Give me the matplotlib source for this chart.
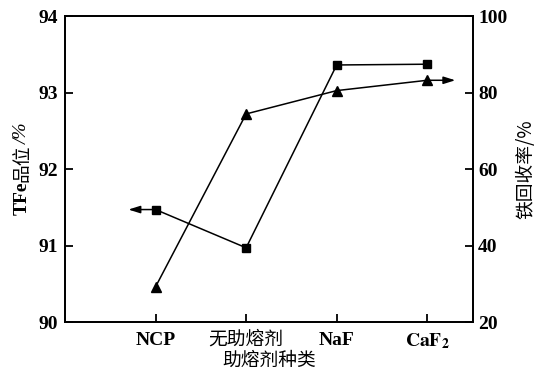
import matplotlib
matplotlib.use("Agg")
import matplotlib.pyplot as plt
import matplotlib.transforms as mtransforms
import numpy as np

plt.rcParams["mathtext.fontset"] = "stix"

categories = ["NCP", "无助熔剂", "NaF", r"$\mathbf{CaF_2}$"]
tfe_grade = [91.47, 90.97, 93.36, 93.37]        # left axis, squares
fe_recovery = [29.2, 74.4, 80.5, 83.2]          # right axis, triangles

SERIF = "Liberation Serif"
CJK = "Noto Sans CJK SC"

fig = plt.figure(figsize=(5.44, 3.76), dpi=100)
ax = fig.add_axes([0.1195, 0.1436, 0.7491, 0.8138])
ax2 = ax.twinx()

x = np.arange(1, len(categories) + 1)

ax.plot(x, tfe_grade, color="black", lw=1.1, marker="s", ms=6, zorder=3)
ax2.plot(x, fe_recovery, color="black", lw=1.1, marker="^", ms=6.5, zorder=3)

# direction arrows: grade -> left axis, recovery -> right axis
arrow_kw = dict(arrowstyle="-|>,head_length=0.7,head_width=0.22",
                color="black", lw=1.1, mutation_scale=10, shrinkA=0, shrinkB=0)
ax.annotate("", xy=(x[0] - 0.30, tfe_grade[0]), xytext=(x[0], tfe_grade[0]),
            arrowprops=arrow_kw)
ax2.annotate("", xy=(x[-1] + 0.31, fe_recovery[-1]),
             xytext=(x[-1], fe_recovery[-1]), arrowprops=arrow_kw)

ax.set_xlim(0, 4.5)
ax.set_ylim(90, 94)
ax2.set_ylim(20, 100)
ax.set_yticks([90, 91, 92, 93, 94])
ax2.set_yticks([20, 40, 60, 80, 100])
ax.set_xticks(x)
ax.set_xticklabels(categories)

for spine in list(ax.spines.values()) + list(ax2.spines.values()):
    spine.set_linewidth(1.3)
ax.tick_params(axis="both", direction="in", length=6, width=1.3, pad=5)
ax2.tick_params(axis="y", direction="in", length=6, width=1.3, pad=4)
ax.tick_params(axis="x", pad=7)

for lab in ax.get_yticklabels() + ax2.get_yticklabels():
    lab.set_fontfamily(SERIF)
    lab.set_fontweight("bold")
    lab.set_fontsize(14)
shift_up = mtransforms.ScaledTranslation(0, 3 / 100, fig.dpi_scale_trans)
for lab, name in zip(ax.get_xticklabels(), categories):
    if name == "无助熔剂":
        lab.set_fontfamily(CJK)
        lab.set_fontsize(13.5)
        lab.set_transform(lab.get_transform() + shift_up)
    else:
        lab.set_fontfamily(SERIF)
        lab.set_fontweight("bold")
        lab.set_fontsize(14)

ax.set_xlabel("助熔剂种类", family=CJK, fontsize=13.5, labelpad=-1)
ax2.set_ylabel("铁回收率/%", family=[CJK, "DejaVu Sans"], fontsize=13.5,
               labelpad=6)

# left y label built from pieces: bold serif "TFe", CJK "品位", "/%"
pieces = [("TFe", dict(family=SERIF, weight="bold", size=14)),
          ("品位", dict(family=CJK, size=13.5)),
          ("/%", dict(family=SERIF, style="italic", size=14))]
fig.canvas.draw()
renderer = fig.canvas.get_renderer()
total = 0
texts = []
for s, kw in pieces:
    t = fig.text(0, 0, s, rotation=90, ha="center", va="bottom", **kw)
    h = t.get_window_extent(renderer).height
    texts.append((t, h))
    total += h
y0 = (0.1436 + 0.8138 / 2) * 376 - total / 2
for t, h in texts:
    t.set_position((22 / 544, y0 / 376))
    y0 += h

fig.savefig("out.png", dpi=100)
